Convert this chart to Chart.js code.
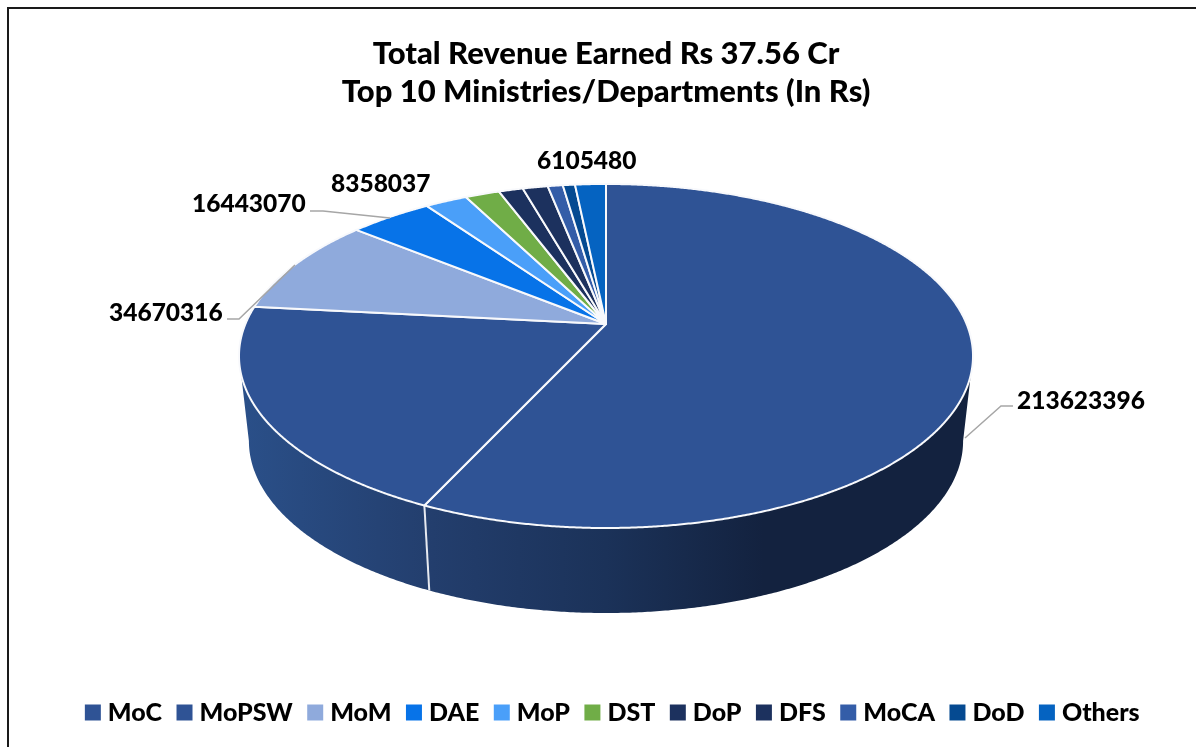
<!DOCTYPE html>
<html>
<head>
<meta charset="utf-8">
<style>
html,body{margin:0;padding:0;background:#fff;overflow:hidden}
#wrap{position:relative;width:1196px;height:747px}
#frame{position:absolute;left:7px;top:7px;width:1196px;height:760px;border:2px solid #1a1a1a;box-sizing:border-box}
canvas{position:absolute;left:0;top:0}
</style>
<script src="https://cdn.jsdelivr.net/npm/chart.js@4/dist/chart.umd.js"></script>
</head>
<body>
<div id="wrap"><canvas id="c" width="1196" height="747"></canvas><div id="frame"></div></div>
<script>
const titleLines = ['Total Revenue Earned Rs 37.56 Cr', 'Top 10 Ministries/Departments (In Rs)'];
const categories = ['MoC','MoPSW','MoM','DAE','MoP','DST','DoP','DFS','MoCA','DoD','Others'];
const revenue = [213623396,74400000,34670316,16443070,8358037,6800000,4840000,4970000,3000000,2400000,6105480];
const sliceColors = ['#2F5395','#2F5395','#8FAADC','#0773E8','#4A9FF9','#70AD47','#1C315E','#1C315E','#345DA8','#054A91','#0563C1'];
const shownLabels = [
  {text:'213623396', x:1017, y:401, line:[[965,438],[1001,406],[1013,406]]},
  {text:'34670316',  x:109,  y:313, line:[[227,319],[239,319],[295,265]]},
  {text:'16443070',  x:192,  y:204, line:[[310,211],[323,211],[390,218]]},
  {text:'8358037',   x:331,  y:184, line:null},
  {text:'6105480',   x:537,  y:161, line:null}
];
const fontFamily = 'Lato, Carlito, "Open Sans", sans-serif';

// perspective mapping of the pie disc
const CX=606, APEX=324, K=-0.186, P=105.8, Q=360.6, DEPTH=85, SHRINK=0.973, LEGEND_SHIFT=9;
function topPt(a){ const X=Math.sin(a), Y=-Math.cos(a), d=1+K*Y; return [CX+Q*X/d,(P*Y+APEX)/d]; }
function botPt(a){ const t=topPt(a); return [CX+(t[0]-CX)*SHRINK,t[1]+DEPTH]; }

const pie3d = {
  id:'pie3d',
  afterLayout(chart){ chart.legend.left+=LEGEND_SHIFT; chart.legend.right+=LEGEND_SHIFT; },
  beforeDatasetsDraw(chart){
    const ctx=chart.ctx, arcs=chart.getDatasetMeta(0).data;
    const range=arcs.map(el=>[el.startAngle+Math.PI/2, el.endAngle+Math.PI/2]);
    ctx.save();
    // side wall: a single polygon between the silhouette tangents
    const g=ctx.createLinearGradient(246,0,965,0);
    g.addColorStop(0,'#2A4F88'); g.addColorStop(0.26,'#233E6D');
    g.addColorStop(0.5,'#1B3259'); g.addColorStop(0.72,'#13223F'); g.addColorStop(1,'#13223F');
    const a0=Math.acos(K), a1=2*Math.PI-a0, N=400;
    ctx.beginPath();
    for(let i=0;i<=N;i++){ const p=topPt(a0+(a1-a0)*i/N); i?ctx.lineTo(p[0],p[1]):ctx.moveTo(p[0],p[1]); }
    for(let i=N;i>=0;i--){ const p=botPt(a0+(a1-a0)*i/N); ctx.lineTo(p[0],p[1]); }
    ctx.closePath(); ctx.fillStyle=g; ctx.fill();
    // wall separators on the front face
    ctx.strokeStyle='#E6E9F0'; ctx.lineWidth=2;
    range.forEach(r=>{
      const t=topPt(r[0]), bt=botPt(r[0]);
      const n=((r[0]%(2*Math.PI))+2*Math.PI)%(2*Math.PI);
      if(n>a0 && n<a1){
        ctx.beginPath(); ctx.moveTo(t[0],t[1]); ctx.lineTo(bt[0],bt[1]); ctx.stroke();
      }
    });
    // top face
    range.forEach((r,i)=>{
      ctx.beginPath(); ctx.moveTo(CX,APEX);
      const steps=Math.max(4,Math.ceil((r[1]-r[0])/0.005));
      for(let s=0;s<=steps;s++){ const q=topPt(r[0]+(r[1]-r[0])*s/steps); ctx.lineTo(q[0],q[1]); }
      ctx.closePath();
      ctx.fillStyle=sliceColors[i]; ctx.fill();
      ctx.strokeStyle='#F8F9FC'; ctx.lineWidth=2; ctx.lineJoin='round'; ctx.stroke();
    });
    ctx.restore();
    return false;
  },
  afterDraw(chart){
    const ctx=chart.ctx;
    ctx.save();
    ctx.strokeStyle='#A6A6A6'; ctx.lineWidth=1.5;
    shownLabels.forEach(l=>{
      if(!l.line) return;
      ctx.beginPath(); l.line.forEach((p,i)=> i?ctx.lineTo(p[0],p[1]):ctx.moveTo(p[0],p[1])); ctx.stroke();
    });
    ctx.fillStyle='#000'; ctx.font='900 24.5px '+fontFamily; ctx.textAlign='left'; ctx.textBaseline='middle';
    shownLabels.forEach(l=>ctx.fillText(l.text,l.x,l.y));
    ctx.restore();
  }
};

new Chart(document.getElementById('c'),{
  type:'pie',
  data:{labels:categories,datasets:[{data:revenue,backgroundColor:sliceColors,borderWidth:0}]},
  options:{
    responsive:false,animation:false,
    layout:{padding:{top:35,bottom:12,left:16,right:0}},
    plugins:{
      title:{display:true,text:titleLines,color:'#000',font:{family:fontFamily,size:31,weight:'900',lineHeight:1.23},padding:{top:0,bottom:10}},
      legend:{display:true,position:'bottom',labels:{
        color:'#000',font:{family:fontFamily,size:25,weight:'900'},
        usePointStyle:true,pointStyle:'rect',boxWidth:5,boxHeight:16,padding:20
      }},
      tooltip:{enabled:false}
    }
  },
  plugins:[pie3d]
});
</script>
</body>
</html>
